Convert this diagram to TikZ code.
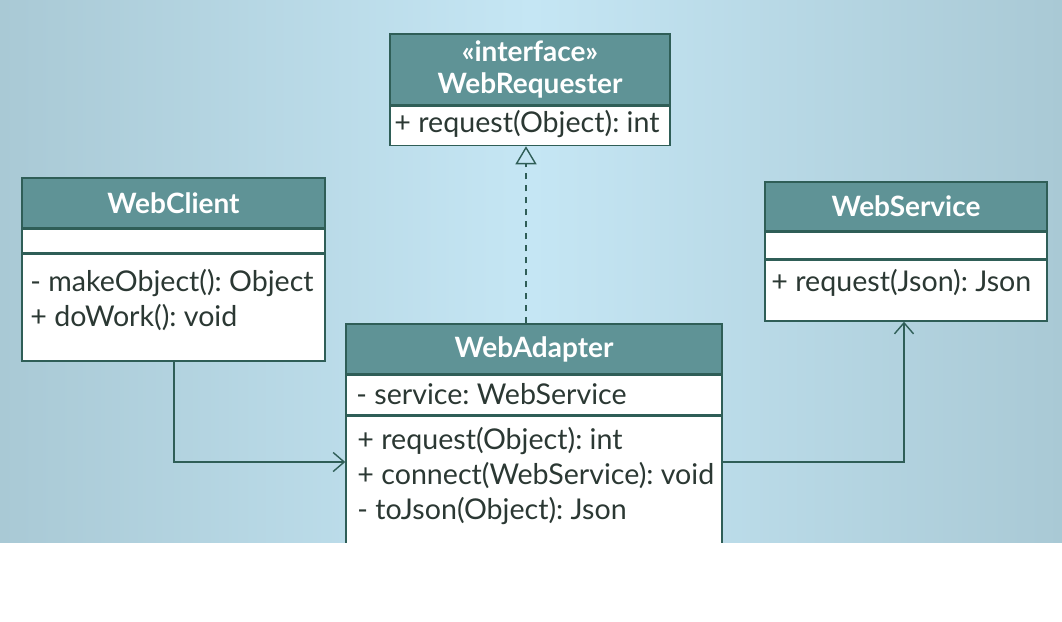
\documentclass[tikz,border=0pt]{standalone}
\usepackage{fontspec}
\setmainfont{Lato}
\frenchspacing
\usetikzlibrary{positioning,arrows.meta}

\definecolor{skymid}{HTML}{C5E6F4}
\definecolor{skyedge}{HTML}{A9C9D5}
\definecolor{headfill}{HTML}{5F9396}
\definecolor{boxline}{HTML}{2F5E57}
\definecolor{inktext}{HTML}{2B3833}

\tikzset{
  head/.style={draw=boxline, fill=headfill, line width=1.5pt, text=white,
    font=\fontsize{28}{32}\selectfont\bfseries, align=center, inner sep=0pt},
  part/.style={draw=boxline, fill=white, line width=1.5pt, anchor=north, inner sep=0pt},
  members/.style={anchor=north west, text=inktext, inner sep=0pt,
    font=\fontsize{28.6}{35}\selectfont, align=left},
  link/.style={draw=boxline, line width=1.4pt},
}

\begin{document}
\begin{tikzpicture}[x=1pt, y=-1pt]
    \useasboundingbox (0,0) rectangle (1062,621);
    % Background
    \shade[left color=skyedge, right color=skymid] (0,0) rectangle (531,543);
    \shade[left color=skymid, right color=skyedge] (531,0) rectangle (1062,543);

    % WebRequester (interface)
    \node[head, minimum width=280, minimum height=71] (reqhead) at (530,69.5)
        {«interface»\\WebRequester};
    \node[part, minimum width=280, minimum height=39] (reqops) at (reqhead.south) {};
    \node[members] (reqtext) at ([shift={(5,4)}]reqops.north west)
        {+ request(Object): int};

    % WebClient
    \node[head, minimum width=303, minimum height=50] (clienthead) at (173.5,203)
        {WebClient};
    \node[part, minimum width=303, minimum height=23] (clientattr) at (clienthead.south) {};
    \node[part, minimum width=303, minimum height=107] (clientops) at (clientattr.south) {};
    \node[members] (clienttext) at ([shift={(9,16)}]clientops.north west)
        {- makeObject(): Object\\+ doWork(): void};

    % WebService
    \node[head, minimum width=282, minimum height=49] (servicehead) at (906,206.5)
        {WebService};
    \node[part, minimum width=282, minimum height=26] (serviceattr) at (servicehead.south) {};
    \node[part, minimum width=282, minimum height=61] (serviceops) at (serviceattr.south) {};
    \node[members] (servicetext) at ([shift={(7,10)}]serviceops.north west)
        {+ request(Json): Json};

    % WebAdapter
    \node[head, minimum width=376, minimum height=50] (adapterhead) at (534,349)
        {WebAdapter};
    \node[part, minimum width=376, minimum height=39] (adapterattr) at (adapterhead.south) {};
    \node[members] (attrtext) at ([shift={(11,8)}]adapterattr.north west)
        {- service: WebService};
    \node[part, minimum width=376, minimum height=140] (adapterops) at (adapterattr.south) {};
    \node[members] (opstext) at ([shift={(12,12)}]adapterops.north west)
        {+ request(Object): int\\+ connect(WebService): void\\- toJson(Object): Json};

    % Connectors
    \coordinate (clientturn) at (clientops.south -| 174,0);
    \draw[link, -{Straight Barb[length=11pt, width=19pt]}]
        (clientturn) |- (adapterops.west |- 0,462);
    \draw[link, -{Straight Barb[length=11pt, width=19pt]}]
        (adapterops.east |- 0,462) -| (serviceops.south -| 904,0);
    \draw[link, line width=1.2pt, dash pattern=on 6pt off 6pt,
        -{Triangle[open, length=18pt, width=21pt, line width=1.4pt]}]
        (adapterhead.north -| 526,0) -- (reqops.south -| 526,0);

    % White strip at bottom
    \fill[white] (0,543) rectangle (1062,621);
\end{tikzpicture}
\end{document}
